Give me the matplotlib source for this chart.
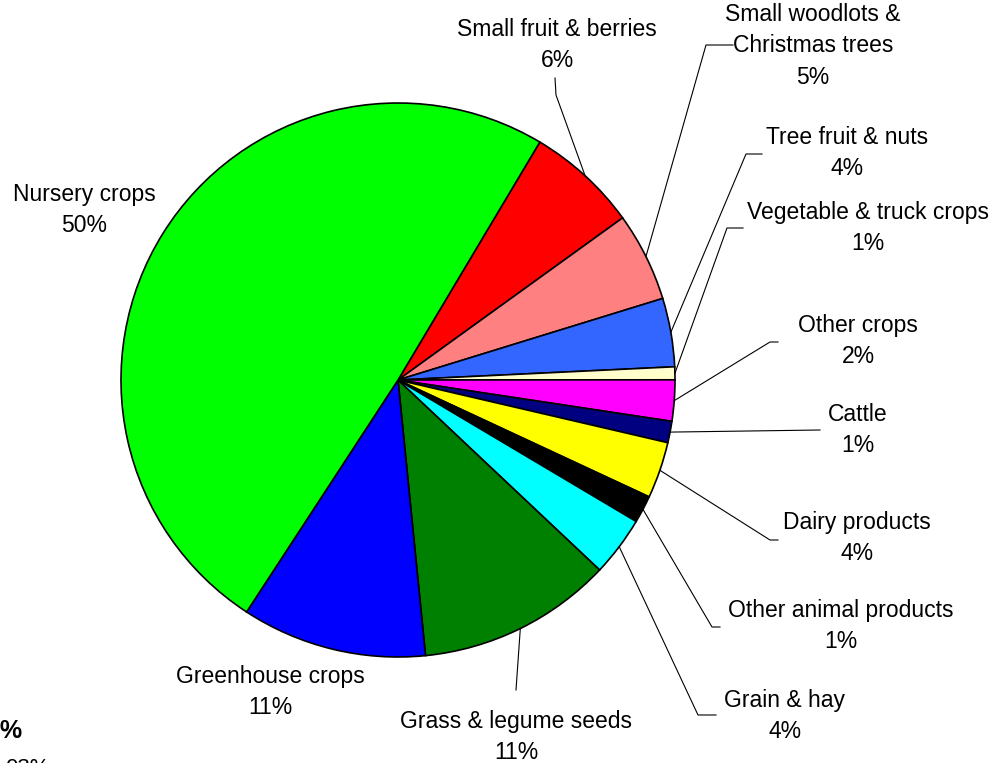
import numpy as np
import matplotlib.pyplot as plt

plt.rcParams['font.family'] = ['Liberation Sans', 'DejaVu Sans']

# Share of sales by commodity (clockwise from "Small fruit & berries")
categories = ['Small fruit & berries', 'Small woodlots &\nChristmas trees', 'Tree fruit & nuts',
              'Vegetable & truck crops', 'Other crops', 'Cattle', 'Dairy products',
              'Other animal products', 'Grain & hay', 'Grass & legume seeds',
              'Greenhouse crops', 'Nursery crops']
values = [6.5, 5.2, 4.0, 0.75, 2.4, 1.25, 3.3, 1.6, 3.5, 11.4, 10.8, 49.4]
pct_labels = ['6%', '5%', '4%', '1%', '2%', '1%', '4%', '1%', '4%', '11%', '11%', '50%']
colors = ['#FF0000', '#FF8080', '#3366FF', '#FFFFCC', '#FF00FF', '#000080', '#FFFF00',
          '#000000', '#00FFFF', '#008000', '#0000FF', '#00FF00']

W, H = 1001, 763
# label centre and leader-line bend points, in pixel coords (y down)
label_pos = [(557, 45), (813, 46), (847, 153), (868, 228), (858, 341), (858, 430),
             (857, 538), (841, 626), (785, 716), (516, 737), (270, 692), (84, 210)]
leader_pts = [[(556, 95), (555, 78)], [(706, 45), (733, 45)], [(746, 154), (762, 154)],
              [(727, 228), (743, 228)], [(770, 342), (778, 342)], [(820, 430)],
              [(770, 540), (778, 540)], [(712, 627), (720, 627)], [(698, 715), (716, 715)],
              [(516, 690)], None, None]

fig = plt.figure(figsize=(W / 100, H / 100), dpi=100)
ax = fig.add_axes([0, 0, 1, 1])

cx, cy, r = 398, H - 380, 277
wedges, _ = ax.pie(values, colors=colors, startangle=59.2, counterclock=False,
                   center=(cx, cy), radius=r,
                   wedgeprops=dict(edgecolor='black', linewidth=1.2))

for w, name, pct, pos, pts in zip(wedges, categories, pct_labels, label_pos, leader_pts):
    ax.text(pos[0], H - pos[1], name + '\n' + pct, ha='center', va='center',
            fontsize=16.5, linespacing=1.45, color='black')
    if pts is None:
        continue
    mid = np.deg2rad((w.theta1 + w.theta2) / 2)
    xs = [cx + r * np.cos(mid)] + [p[0] for p in pts]
    ys = [cy + r * np.sin(mid)] + [H - p[1] for p in pts]
    ax.plot(xs, ys, color='black', linewidth=0.8)

# cut-off text from the neighbouring chart at the left edge
fig.text(22 / W, 1 - 731 / H, '0%', ha='right', va='center', fontsize=18, fontweight='bold')
fig.text(50 / W, 1 - 769 / H, '03%', ha='right', va='center', fontsize=16)

ax.set_xlim(0, W)
ax.set_ylim(0, H)
ax.set_aspect('equal')
ax.axis('off')

fig.savefig('out.png', dpi=100)
